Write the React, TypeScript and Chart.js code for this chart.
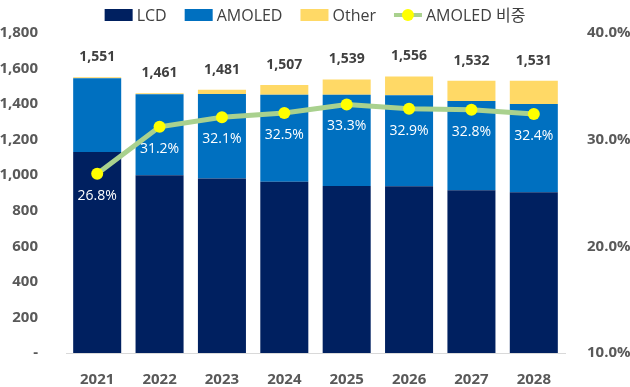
import { useEffect, useRef } from "react";
import { Chart, registerables } from "chart.js";

Chart.register(...registerables);

const years = ["2021", "2022", "2023", "2024", "2025", "2026", "2027", "2028"];
const lcd = [1130, 1000, 982, 963, 940, 938, 915, 904];
const amoled = [416, 456, 475, 490, 512, 512, 502, 496];
const other = [5, 5, 24, 54, 87, 106, 115, 131];
const totals = [1551, 1461, 1481, 1507, 1539, 1556, 1532, 1531];
const amoledShare = [26.8, 31.2, 32.1, 32.5, 33.3, 32.9, 32.8, 32.4];

const FONT = "'Open Sans', 'Noto Sans CJK KR', sans-serif";
const C_LCD = "#002060";
const C_AMOLED = "#0070C0";
const C_OTHER = "#FFD966";
const C_LINE = "#A9D18E";
const C_DOT = "#FFFF00";

const fmt = (v: number) => v.toLocaleString("en-US");

const labelPlugin = {
  id: "customLabels",
  afterDatasetsDraw(chart: any) {
    const ctx = chart.ctx;
    ctx.save();
    const topMeta = chart.getDatasetMeta(2);
    ctx.font = `bold 14px ${FONT}`;
    ctx.fillStyle = "#404040";
    ctx.textAlign = "center";
    ctx.textBaseline = "middle";
    topMeta.data.forEach((el: any, i: number) => {
      ctx.fillText(fmt(totals[i]), el.x, el.y - 20);
    });
    const lineMeta = chart.getDatasetMeta(3);
    ctx.font = `14px ${FONT}`;
    ctx.fillStyle = "#FFFFFF";
    lineMeta.data.forEach((el: any, i: number) => {
      ctx.fillText(amoledShare[i].toFixed(1) + "%", el.x, el.y + 22);
    });
    ctx.restore();
  },
  afterDraw(chart: any) {
    const ctx = chart.ctx;
    ctx.save();
    ctx.font = `16px ${FONT}`;
    ctx.textBaseline = "middle";
    ctx.textAlign = "left";
    const items = [
      { text: "LCD", type: "box", color: C_LCD },
      { text: "AMOLED", type: "box", color: C_AMOLED },
      { text: "Other", type: "box", color: C_OTHER },
      { text: "AMOLED 비중", type: "line", color: C_LINE },
    ];
    const boxW = 28;
    const gapIn = 4;
    const gapOut = 18;
    let total = 0;
    items.forEach((it, i) => {
      total += boxW + gapIn + ctx.measureText(it.text).width + (i < items.length - 1 ? gapOut : 0);
    });
    let x = chart.width / 2 - total / 2;
    const y = 15;
    items.forEach((it) => {
      if (it.type === "box") {
        ctx.fillStyle = it.color;
        ctx.fillRect(x, y - 6, boxW, 12);
      } else {
        ctx.strokeStyle = C_LINE;
        ctx.lineWidth = 4;
        ctx.beginPath();
        ctx.moveTo(x, y);
        ctx.lineTo(x + boxW, y);
        ctx.stroke();
        ctx.fillStyle = C_DOT;
        ctx.beginPath();
        ctx.arc(x + boxW / 2, y, 6, 0, Math.PI * 2);
        ctx.fill();
      }
      x += boxW + gapIn;
      ctx.fillStyle = "#404040";
      ctx.fillText(it.text, x, y + 1);
      x += ctx.measureText(it.text).width + gapOut;
    });
    ctx.restore();
  },
};

export default function App() {
  const ref = useRef<HTMLCanvasElement | null>(null);
  useEffect(() => {
    if (!ref.current) return;
    const barCommon = {
      type: "bar" as const,
      stack: "s",
      yAxisID: "y",
      categoryPercentage: 1,
      barPercentage: 0.77,
      order: 1,
    };
    const chart = new Chart(ref.current, {
      type: "bar",
      data: {
        labels: years,
        datasets: [
          { ...barCommon, label: "LCD", data: lcd, backgroundColor: C_LCD },
          { ...barCommon, label: "AMOLED", data: amoled, backgroundColor: C_AMOLED },
          { ...barCommon, label: "Other", data: other, backgroundColor: C_OTHER },
          {
            type: "line",
            label: "AMOLED 비중",
            data: amoledShare,
            yAxisID: "y1",
            borderColor: C_LINE,
            borderWidth: 5,
            pointBackgroundColor: C_DOT,
            pointBorderColor: C_DOT,
            pointRadius: 6,
            pointBorderWidth: 0,
            tension: 0,
            order: 0,
          } as any,
        ],
      },
      options: {
        responsive: false,
        animation: false,
        layout: { padding: { top: 33, left: 0, right: 0, bottom: 0 } },
        plugins: {
          legend: { display: false },
          tooltip: { enabled: false },
        },
        scales: {
          x: {
            stacked: true,
            grid: { display: false },
            border: { display: true, color: "#D9D9D9", width: 1 },
            ticks: {
              font: { family: FONT, size: 15, weight: "bold" },
              color: "#595959",
              padding: 10,
            },
            afterFit: (s: any) => {
              s.height = 34;
            },
          },
          y: {
            stacked: true,
            position: "left",
            min: 0,
            max: 1800,
            grid: { display: false },
            border: { display: false },
            ticks: {
              stepSize: 200,
              font: { family: FONT, size: 15, weight: "bold" },
              color: "#595959",
              padding: 20,
              callback: (v: any) => (v === 0 ? "-" : fmt(Number(v))),
            },
            afterFit: (s: any) => {
              s.width = 66;
            },
          },
          y1: {
            position: "right",
            min: 10,
            max: 40,
            grid: { display: false },
            border: { display: false },
            ticks: {
              stepSize: 10,
              font: { family: FONT, size: 15, weight: "bold" },
              color: "#595959",
              padding: 14,
              callback: (v: any) => Number(v).toFixed(1) + "%",
            },
            afterFit: (s: any) => {
              s.width = 65;
            },
          },
        },
      },
      plugins: [labelPlugin],
    } as any);
    return () => chart.destroy();
  }, []);
  return (
    <div style={{ position: "fixed", left: 0, top: 0, width: 630, height: 387, background: "#fff" }}>
      <canvas ref={ref} width={630} height={387} style={{ width: 630, height: 387 }} />
    </div>
  );
}
